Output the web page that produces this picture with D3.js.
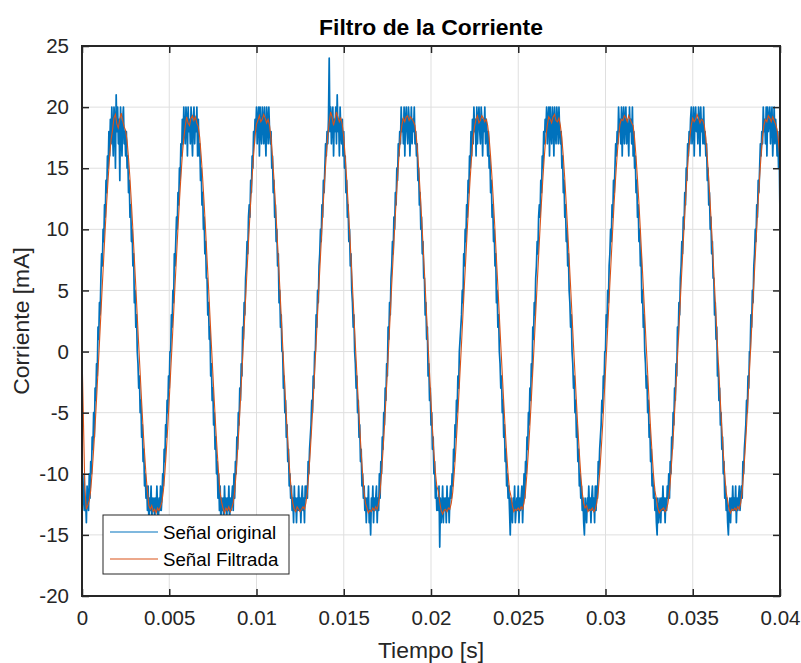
<!DOCTYPE html>
<html lang="es">
<head>
<meta charset="UTF-8">
<title>Filtro de la Corriente</title>
<script src="https://d3js.org/d3.v7.min.js"></script>
<style>
  body { margin: 0; background: #fff; }
  svg { display: block; font-family: "Liberation Sans", Arial, Helvetica, sans-serif; }
  .grid line { stroke: #dfdfdf; stroke-width: 1; }
  .tick-label { fill: #262626; font-size: 20.5px; }
</style>
</head>
<body>
<svg width="801" height="663"></svg>
<script>
// sample rates of the two traces (Hz) and the filter's lag (s)
const rawRate = 24000;
const filtRate = 12000;
const filtDelay = 0.00008;

// Señal original [mA], roughly one row per period
const rawSignal = [
  -11,-13,-12,-10,-13,-12,-14,-11,-12,-13,-10,-12,-9,-10,-7,-8,-5,-7,-3,-4,-1,-2,2,1,4,3,6,8,7,10,9,12,11,14,13,16,15,18,16,19,17,20,18,16,20,19,15,21,18,20,17,19,14,20,18,16,19,20,17,18,16,18,15,16,13,14,11,12,9,10,7,8,4,5,2,3,0,-1,-3,-2,-5,-4,-7,-6,-9,-8,-11,-10,-12,-11,-13,-11,-14,-12,-13,-11,-14,-12,-13,-12,
  -14,-12,-13,-11,-13,-14,-12,-13,-11,-13,-12,-10,-11,-8,-9,-6,-7,-4,-5,-2,-3,0,0,3,2,5,4,8,7,9,11,10,13,12,15,14,17,16,19,17,20,18,17,20,19,16,20,18,19,17,20,18,16,19,20,17,19,18,20,16,19,16,17,14,15,12,13,10,11,8,9,6,6,3,4,1,2,-2,-1,-4,-3,-6,-5,-8,-7,-10,-9,-12,-10,-13,-11,-14,-12,-13,-12,-14,-11,-13,-12,-14,
  -12,-13,-11,-14,-12,-13,-12,-11,-13,-10,-12,-9,-10,-7,-8,-5,-6,-3,-4,-1,-2,2,1,4,3,6,7,9,8,11,12,11,14,13,16,15,18,17,19,18,20,17,19,20,16,20,18,17,20,19,17,20,18,16,20,19,17,20,18,17,18,15,16,13,14,11,12,9,10,7,8,4,5,2,3,0,0,-3,-2,-5,-4,-7,-6,-9,-8,-11,-10,-12,-11,-13,-12,-14,-11,-13,-12,-14,-12,-13,-11,
  -13,-12,-14,-12,-11,-13,-12,-14,-11,-12,-11,-12,-9,-10,-8,-7,-6,-4,-5,-2,-3,0,0,3,2,5,4,7,8,10,9,12,11,14,13,15,17,16,18,17,19,24,18,20,17,19,20,16,19,18,20,17,21,18,19,16,20,18,17,19,16,18,15,16,13,14,11,12,9,10,7,8,5,4,2,3,0,-1,-3,-2,-5,-4,-7,-6,-9,-8,-11,-10,-12,-11,-13,-12,-14,-12,-13,-11,-14,-13,-15,-12,
  -13,-11,-14,-12,-13,-12,-11,-14,-12,-13,-10,-12,-9,-10,-7,-8,-5,-6,-3,-4,-1,-2,2,1,4,3,6,7,9,8,11,10,13,12,15,14,17,16,18,17,20,18,19,17,20,16,19,20,18,17,20,19,16,18,20,17,19,18,20,17,18,16,17,14,15,12,13,10,11,8,9,6,6,3,4,1,2,-2,-1,-4,-3,-6,-5,-8,-7,-10,-9,-12,-11,-13,-12,-13,-11,-16,-12,-14,-13,-11,-14,-12,
  -13,-12,-14,-11,-13,-12,-14,-12,-11,-12,-10,-11,-8,-9,-6,-7,-4,-5,-2,-3,0,1,2,3,5,4,8,7,10,9,12,11,14,13,16,15,18,16,19,17,20,18,19,16,20,17,19,20,18,17,20,19,16,19,18,20,17,19,18,16,18,15,16,13,14,11,12,9,10,7,8,4,5,2,3,0,-1,-3,-2,-5,-4,-7,-6,-9,-8,-11,-10,-12,-11,-13,-15,-12,-13,-14,-12,-13,-11,-14,-13,
  -12,-13,-11,-14,-12,-13,-12,-11,-14,-12,-10,-12,-9,-10,-7,-8,-5,-6,-3,-4,-1,-2,2,1,4,3,6,7,9,8,11,12,11,14,13,16,15,18,17,19,18,20,17,19,20,16,20,18,17,20,19,16,20,18,17,20,19,17,20,18,17,18,15,16,13,14,11,12,9,10,7,8,5,4,2,3,0,-1,-3,-2,-5,-4,-7,-6,-9,-8,-11,-10,-12,-11,-13,-12,-14,-15,-12,-13,-14,-12,-13,-11,
  -13,-12,-14,-12,-11,-13,-12,-14,-11,-13,-11,-12,-9,-10,-8,-7,-6,-4,-5,-2,-3,0,0,3,2,5,4,7,8,10,9,12,11,14,13,15,17,16,18,17,20,18,19,17,20,16,19,20,17,19,20,17,19,18,16,20,18,19,17,20,16,18,15,16,13,14,11,12,9,10,7,8,4,5,2,3,0,-1,-3,-2,-5,-4,-7,-6,-9,-8,-11,-10,-12,-11,-13,-12,-14,-15,-12,-14,-13,-12,-14,-12,
  -13,-11,-13,-12,-14,-12,-13,-11,-12,-10,-12,-9,-10,-7,-8,-5,-6,-3,-4,-1,-2,2,1,4,3,6,7,9,8,11,10,13,12,15,14,17,16,18,17,19,20,17,18,20,16,19,20,18,19,17,20,19,16,20,18,19,17,20,17,18,16,17,14,15,12,13,10,11,8,9,6,6,3,4,1,2,-2,-1,-4,-3,-6,-5,-8,-7,-10,-9,-12,-11,-13,-12,-14,-15,-13,-12,-14,-12,-13,-11,-13,
  -12,-13,-11,-14,-12,-13,-12,-11,-13,-12,-11,-12,-9,-10,-8,-7,-6,-4,-5,-2,-3,0,0,3,2,5,4,7,8,10,9,12,11,14,13,15,17,16,18,17,20,18,19,17,20,16,20,18,19,20,17,19,20,16,18,20,17,19,18,16,18,15,16,11
];

// Señal Filtrada [mA], roughly one row per period
const filtSignal = [
  0,-11.2,-12.9,-12.6,-12.2,-11.4,-9.9,-8.1,-6.2,-4.0,-1.7,0.6,3.0,5.4,7.7,10.0,12.2,14.1,15.9,17.3,18.1,19.1,19.4,18.6,18.3,19.0,19.5,18.9,18.4,18.1,17.3,15.9,14.2,12.2,10.0,7.7,5.4,3.0,0.6,-1.7,-4.0,-6.2,-8.2,-10.0,-11.4,-12.6,-12.9,-12.6,-13.1,-12.9,
  -13.2,-12.8,-13.0,-12.7,-12.3,-11.4,-10.0,-8.2,-6.2,-4.0,-1.7,0.6,3.0,5.4,7.7,10.0,12.2,14.2,16.0,17.4,18.4,19.2,18.7,18.5,19.1,19.3,18.9,19.2,18.7,18.4,17.5,16.0,14.2,12.2,10.0,7.7,5.4,3.0,0.6,-1.7,-4.0,-6.2,-8.2,-10.0,-11.5,-12.3,-12.8,-13.2,-12.8,-13.0,
  -12.7,-13.1,-12.8,-12.4,-11.5,-10.0,-8.2,-6.2,-4.0,-1.7,0.6,3.0,5.4,7.7,10.0,12.2,14.2,16.0,17.6,18.6,18.9,19.3,18.8,19.0,19.4,19.1,18.7,19.0,18.5,17.5,16.0,14.2,12.2,10.0,7.7,5.4,3.0,0.6,-1.7,-4.0,-6.2,-8.2,-10.0,-11.5,-12.4,-12.9,-13.1,-12.7,-12.9,
  -13.1,-12.9,-12.7,-12.9,-12.4,-11.5,-10.0,-8.2,-6.2,-4.0,-1.7,0.6,3.0,5.4,7.7,10.0,12.2,14.2,16.0,17.6,18.7,19.6,19.2,18.5,19.0,19.6,19.2,18.8,19.1,18.6,17.6,16.0,14.2,12.2,10.0,7.7,5.4,3.0,0.6,-1.7,-4.0,-6.2,-8.2,-10.0,-11.5,-12.4,-12.8,-13.2,-13.0,-13.1,
  -12.8,-13.0,-12.7,-12.9,-12.4,-11.5,-10.0,-8.2,-6.2,-4.0,-1.7,0.6,3.0,5.4,7.7,10.0,12.2,14.2,16.0,17.5,18.5,19.1,18.8,19.2,19.3,18.9,19.2,19.0,18.8,18.5,17.5,16.0,14.2,12.2,10.0,7.7,5.4,3.0,0.6,-1.7,-4.0,-6.2,-8.2,-9.8,-11.0,-11.4,-12.3,-13.0,-13.3,-13.0,
  -12.9,-13.1,-12.8,-12.9,-12.4,-11.5,-10.0,-8.2,-6.2,-4.0,-1.7,0.6,3.0,5.4,7.7,10.0,12.2,14.2,16.0,17.5,18.4,19.0,19.3,18.7,18.9,19.3,19.1,18.8,19.0,18.5,17.5,16.0,14.2,12.2,10.0,7.7,5.4,3.0,0.6,-1.7,-4.0,-6.2,-8.2,-10.0,-11.3,-11.8,-12.6,-13.1,-12.9,-13.0,
  -12.8,-13.0,-12.7,-12.9,-12.4,-11.5,-10.0,-8.2,-6.2,-4.0,-1.7,0.6,3.0,5.4,7.7,10.0,12.2,14.2,16.0,17.5,18.5,19.2,19.0,18.7,19.2,19.4,18.9,18.8,19.1,18.5,17.5,16.0,14.2,12.2,10.0,7.7,5.4,3.0,0.6,-1.7,-4.0,-6.2,-8.2,-10.0,-11.5,-12.4,-12.8,-12.6,-13.1,-12.9,
  -13.0,-12.8,-13.1,-12.9,-12.4,-11.5,-10.0,-8.2,-6.2,-4.0,-1.7,0.6,3.0,5.4,7.7,10.0,12.2,14.2,16.0,17.5,18.6,19.0,18.9,19.3,19.1,18.8,19.3,19.0,18.7,18.5,17.5,16.0,14.2,12.2,10.0,7.7,5.4,3.0,0.6,-1.7,-4.0,-6.2,-8.2,-10.0,-11.4,-12.0,-12.8,-13.2,-13.0,-12.9,
  -12.8,-13.1,-12.9,-12.4,-11.5,-10.0,-8.2,-6.2,-4.0,-1.7,0.6,3.0,5.4,7.7,10.0,12.2,14.2,16.0,17.5,18.5,19.1,18.8,19.0,19.4,19.1,18.7,19.0,18.9,18.5,17.5,16.0,14.2,12.2,10.0,7.7,5.4,3.0,0.6,-1.7,-4.0,-6.2,-8.2,-10.0,-11.5,-12.2,-12.9,-13.2,-12.9,-13.0,
  -12.8,-13.0,-12.7,-12.9,-12.4,-11.5,-10.0,-8.2,-6.2,-4.0,-1.7,0.6,3.0,5.4,7.7,10.0,12.2,14.2,16.0,17.5,18.5,19.0,18.8,19.3,19.1,18.8,19.2,18.9,18.6,18.2,17.2,15.6,13.5
];

const xTicks = [0, 0.005, 0.01, 0.015, 0.02, 0.025, 0.03, 0.035, 0.04];
const yTicks = [-20, -15, -10, -5, 0, 5, 10, 15, 20, 25];
const seriesNames = ["Señal original", "Señal Filtrada"];
const seriesColors = ["#0072bd", "#d95319"];

const svg = d3.select("svg");
const margin = { top: 46, right: 21, bottom: 67, left: 82 };
const W = 801, H = 663;
const pw = W - margin.left - margin.right;
const ph = H - margin.top - margin.bottom;

const x = d3.scaleLinear().domain([0, 0.04]).range([margin.left, margin.left + pw]);
const y = d3.scaleLinear().domain([-20, 25]).range([margin.top + ph, margin.top]);

const rawData = rawSignal.map((v, i) => [i / rawRate, v]);
// the first filtered sample stays at t = 0, the rest lag by the filter delay
const filtData = filtSignal.map((v, i) => [i === 0 ? 0 : i / filtRate + filtDelay, v]);

svg.append("defs").append("clipPath").attr("id", "plot-clip")
  .append("rect")
  .attr("x", margin.left).attr("y", margin.top)
  .attr("width", pw).attr("height", ph);

// grid
const grid = svg.append("g").attr("class", "grid");
grid.selectAll(".gx").data(xTicks).enter().append("line")
  .attr("x1", d => x(d)).attr("x2", d => x(d))
  .attr("y1", margin.top).attr("y2", margin.top + ph);
grid.selectAll(".gy").data(yTicks).enter().append("line")
  .attr("x1", margin.left).attr("x2", margin.left + pw)
  .attr("y1", d => y(d)).attr("y2", d => y(d));

// lines
const line = d3.line().x(d => x(d[0])).y(d => y(d[1]));
const plot = svg.append("g").attr("clip-path", "url(#plot-clip)");
plot.append("path").datum(rawData)
  .attr("fill", "none").attr("stroke", seriesColors[0])
  .attr("stroke-width", 1.7).attr("stroke-linejoin", "round")
  .attr("d", line);
plot.append("path").datum(filtData)
  .attr("fill", "none").attr("stroke", seriesColors[1])
  .attr("stroke-width", 1.1)
  .attr("d", line);

// axes (ticks inward, on all four sides)
const tickLen = 7;
const axisColor = "#262626";
const xAxis = d3.axisBottom(x).tickValues(xTicks).tickSize(-tickLen).tickPadding(14)
  .tickFormat(d => d === 0 ? "0" : d3.format("~g")(d));
const yAxis = d3.axisLeft(y).tickValues(yTicks).tickSize(-tickLen).tickPadding(13)
  .tickFormat(d => String(d));

const gx = svg.append("g").attr("transform", `translate(0,${margin.top + ph})`).call(xAxis);
const gy = svg.append("g").attr("transform", `translate(${margin.left},0)`).call(yAxis);
[gx, gy].forEach(g => {
  g.select(".domain").remove();
  g.selectAll(".tick line").attr("stroke", axisColor).attr("stroke-width", 1.5);
  g.selectAll(".tick text").attr("class", "tick-label")
    .attr("font-family", null).attr("font-size", null);
});

svg.append("g").attr("transform", `translate(0,${margin.top})`)
  .call(d3.axisTop(x).tickValues(xTicks).tickSize(-tickLen).tickFormat(""))
  .call(g => g.select(".domain").remove())
  .selectAll(".tick line").attr("stroke", axisColor).attr("stroke-width", 1.5);
svg.append("g").attr("transform", `translate(${margin.left + pw},0)`)
  .call(d3.axisRight(y).tickValues(yTicks).tickSize(-tickLen).tickFormat(""))
  .call(g => g.select(".domain").remove())
  .selectAll(".tick line").attr("stroke", axisColor).attr("stroke-width", 1.5);

// box
svg.append("rect")
  .attr("x", margin.left).attr("y", margin.top)
  .attr("width", pw).attr("height", ph)
  .attr("fill", "none").attr("stroke", axisColor).attr("stroke-width", 2);

// labels
svg.append("text")
  .attr("x", margin.left + pw / 2).attr("y", 35)
  .attr("text-anchor", "middle").attr("font-weight", "bold")
  .attr("font-size", 22.9).attr("fill", "#000")
  .text("Filtro de la Corriente");
svg.append("text")
  .attr("x", margin.left + pw / 2).attr("y", 658)
  .attr("text-anchor", "middle").attr("font-size", 22.9).attr("fill", axisColor)
  .text("Tiempo [s]");
svg.append("text")
  .attr("transform", `translate(29,${margin.top + ph / 2}) rotate(-90)`)
  .attr("text-anchor", "middle").attr("font-size", 22.9).attr("fill", axisColor)
  .text("Corriente [mA]");

// legend
const legend = svg.append("g").attr("transform", "translate(103,515)");
legend.append("rect")
  .attr("width", 186).attr("height", 59)
  .attr("fill", "#fff").attr("stroke", axisColor).attr("stroke-width", 1);
seriesNames.forEach((name, i) => {
  const cy = 17 + i * 27;
  legend.append("line")
    .attr("x1", 7).attr("x2", 55).attr("y1", cy).attr("y2", cy)
    .attr("stroke", seriesColors[i]).attr("stroke-width", 1.2);
  legend.append("text")
    .attr("x", 60).attr("y", cy).attr("dy", "0.35em")
    .attr("font-size", 18.7).attr("fill", "#000")
    .text(name);
});
</script>
</body>
</html>
